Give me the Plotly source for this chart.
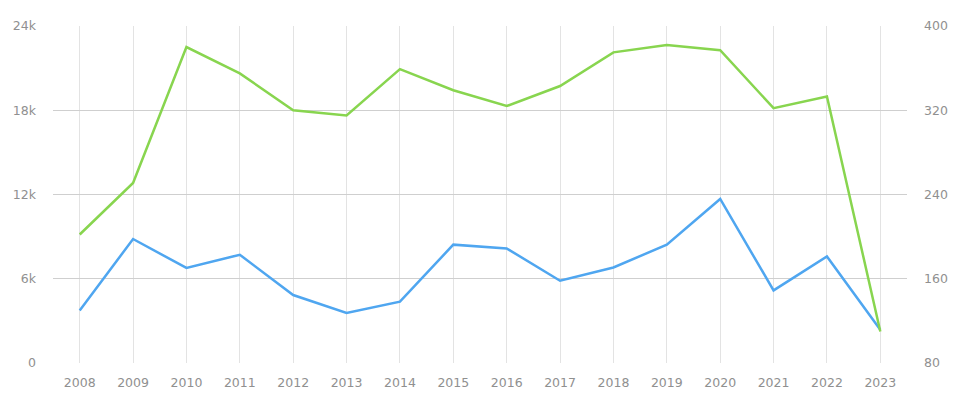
import plotly.graph_objects as go

years = [str(y) for y in range(2008, 2024)]
blue_values = [3.73, 8.83, 6.77, 7.71, 4.84, 3.56, 4.37, 8.43, 8.16, 5.86, 6.8, 8.43, 11.68, 5.17, 7.59, 2.37]
blue_values = [v * 1000 for v in blue_values]
green_values = [202, 251, 380, 355, 320, 315, 359, 339, 324, 343, 375, 382, 377, 322, 333, 110]

left_ticks = [0, 6000, 12000, 18000, 24000]
left_labels = ["0", "6k", "12k", "18k", "24k"]
right_ticks = [80, 160, 240, 320, 400]

fig = go.Figure()
fig.add_trace(go.Scatter(x=years, y=green_values, mode="lines", yaxis="y2",
                         line=dict(color="#88d54f", width=2.5), showlegend=False))
fig.add_trace(go.Scatter(x=years, y=blue_values, mode="lines", yaxis="y",
                         line=dict(color="#4fa6f0", width=2.5), showlegend=False))

font = dict(family="DejaVu Sans, sans-serif", size=12.5, color="#909090")
fig.update_layout(
    width=961, height=404,
    margin=dict(l=53, r=54, t=26, b=41),
    paper_bgcolor="white", plot_bgcolor="white",
    font=font,
    xaxis=dict(type="category", range=[-0.5, 15.5], showgrid=True, gridcolor="#e3e3e3",
               gridwidth=1, ticks="", showline=False, zeroline=False, tickfont=font,
               ticklabelstandoff=10),
    yaxis=dict(range=[0, 24000], tickvals=left_ticks, ticktext=left_labels,
               showgrid=True, gridcolor="#cfcfcf", gridwidth=1, zeroline=False,
               showline=False, ticks="", tickfont=font, ticklabelstandoff=16),
    yaxis2=dict(range=[80, 400], tickvals=right_ticks, overlaying="y", side="right",
                showgrid=False, zeroline=False, showline=False, ticks="", tickfont=font,
                ticklabelstandoff=16),
)
fig.write_html("out.html", config={"displayModeBar": False},
               post_script="document.body.style.margin='0px';")
